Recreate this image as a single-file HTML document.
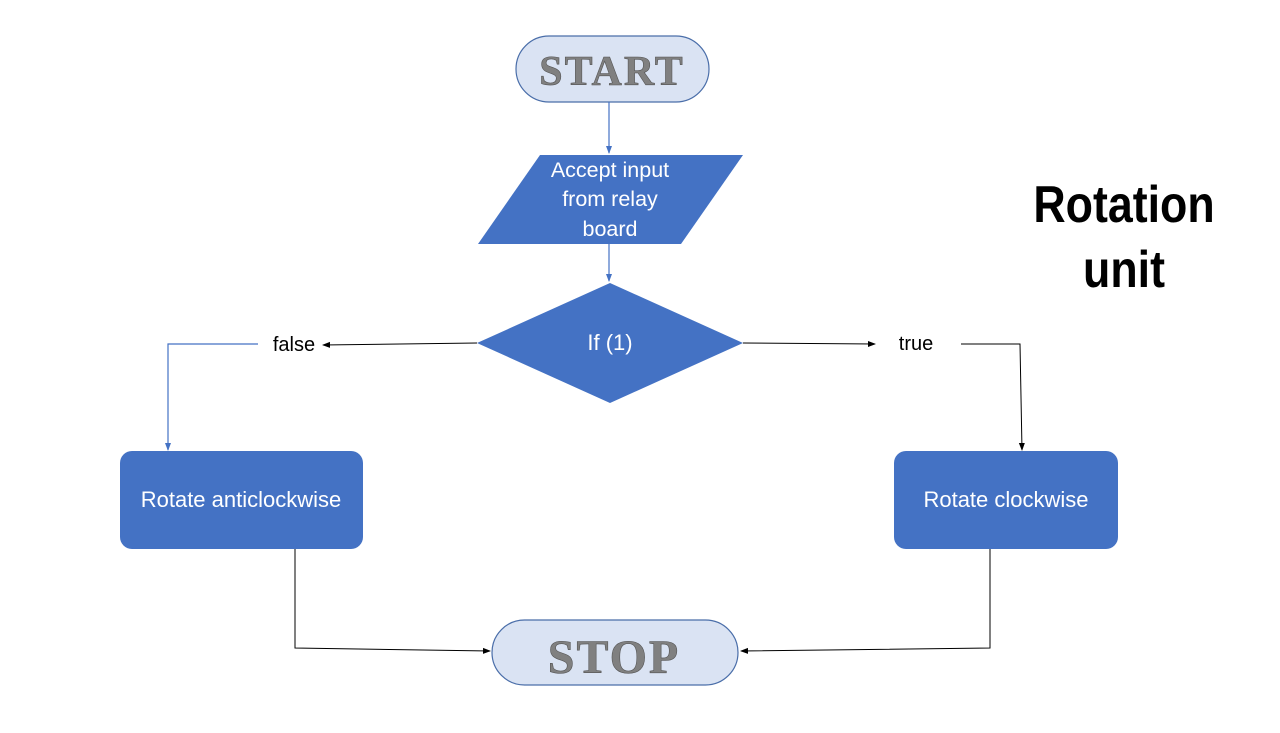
<!DOCTYPE html>
<html><head><meta charset="utf-8"><style>
html,body{margin:0;padding:0;background:#fff;}
svg{display:block;}
</style></head><body>
<svg width="1280" height="733" viewBox="0 0 1280 733" xmlns="http://www.w3.org/2000/svg">
<defs>
<marker id="ab" markerWidth="8" markerHeight="8" refX="7" refY="4" orient="auto" markerUnits="userSpaceOnUse"><path d="M0,1 L8,4 L0,7 z" fill="#4472c4"/></marker>
<marker id="ak" markerWidth="8" markerHeight="8" refX="7" refY="4" orient="auto" markerUnits="userSpaceOnUse"><path d="M0,1 L8,4 L0,7 z" fill="#000"/></marker>
</defs>
<rect x="516" y="36" width="193" height="66" rx="33" fill="#dae3f3" stroke="#4a6ea9" stroke-width="1.2"/>
<text x="612" y="85" text-anchor="middle" font-family="Liberation Serif, serif" font-weight="bold" font-size="42" fill="#808080" stroke="#555" stroke-width="0.6" letter-spacing="2">START</text>
<line x1="609" y1="102" x2="609" y2="153" stroke="#4472c4" stroke-width="1.2" marker-end="url(#ab)"/>
<polygon points="540,155 743,155 681,244 478,244" fill="#4472c4"/>
<g font-family="Liberation Sans, sans-serif" font-size="21.5" fill="#fff" text-anchor="middle">
<text x="610" y="177">Accept input</text>
<text x="610" y="206">from relay</text>
<text x="610" y="236">board</text>
</g>
<line x1="609" y1="244" x2="609" y2="281" stroke="#4472c4" stroke-width="1.2" marker-end="url(#ab)"/>
<polygon points="610,283 743,343 610,403 477,343" fill="#4472c4"/>
<text x="610" y="350" text-anchor="middle" font-family="Liberation Sans, sans-serif" font-size="22" fill="#fff">If (1)</text>
<line x1="477" y1="343" x2="323" y2="345" stroke="#000" stroke-width="1" marker-end="url(#ak)"/>
<text x="294" y="351" text-anchor="middle" font-family="Liberation Sans, sans-serif" font-size="20" fill="#000">false</text>
<polyline points="258,344 168,344 168,450" fill="none" stroke="#4472c4" stroke-width="1.2" marker-end="url(#ab)"/>
<line x1="743" y1="343" x2="875" y2="344" stroke="#000" stroke-width="1" marker-end="url(#ak)"/>
<text x="916" y="350" text-anchor="middle" font-family="Liberation Sans, sans-serif" font-size="20" fill="#000">true</text>
<polyline points="961,344 1020,344 1022,450" fill="none" stroke="#000" stroke-width="1" marker-end="url(#ak)"/>
<rect x="120" y="451" width="243" height="98" rx="12" fill="#4472c4"/>
<text x="241" y="507" text-anchor="middle" font-family="Liberation Sans, sans-serif" font-size="22" fill="#fff">Rotate anticlockwise</text>
<rect x="894" y="451" width="224" height="98" rx="12" fill="#4472c4"/>
<text x="1006" y="507" text-anchor="middle" font-family="Liberation Sans, sans-serif" font-size="22" fill="#fff">Rotate clockwise</text>
<polyline points="295,549 295,648 490,651" fill="none" stroke="#000" stroke-width="1" marker-end="url(#ak)"/>
<polyline points="990,549 990,648 741,651" fill="none" stroke="#000" stroke-width="1" marker-end="url(#ak)"/>
<rect x="492" y="620" width="246" height="65" rx="32.5" fill="#dae3f3" stroke="#4a6ea9" stroke-width="1.2"/>
<text x="614" y="673" text-anchor="middle" font-family="Liberation Serif, serif" font-weight="bold" font-size="48" fill="#808080" stroke="#555" stroke-width="0.6" letter-spacing="2">STOP</text>
<g font-family="Liberation Sans, sans-serif" font-weight="bold" font-size="52" fill="#000" text-anchor="middle" transform="translate(1124,0) scale(0.86,1)">
<text x="0" y="222">Rotation</text>
<text x="0" y="287">unit</text>
</g>
</svg>
</body></html>
